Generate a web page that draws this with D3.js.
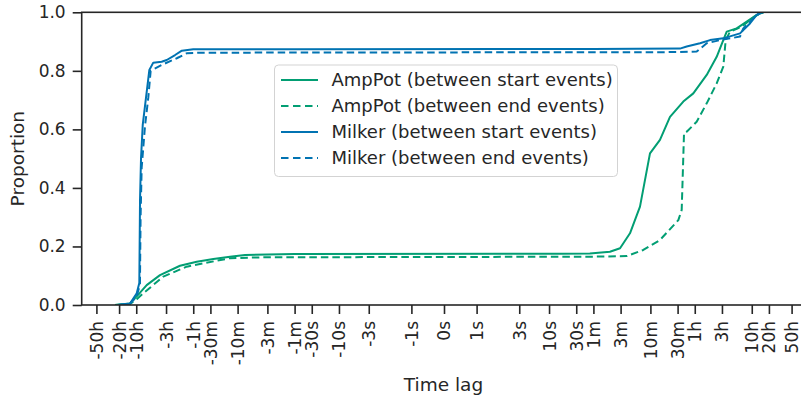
<!DOCTYPE html>
<html>
<head>
<meta charset="utf-8">
<script src="https://cdn.jsdelivr.net/npm/d3@7"></script>
<style>
  html, body { margin: 0; padding: 0; background: #fff; }
  svg { display: block; font-family: "DejaVu Sans", sans-serif; }
</style>
</head>
<body>
<svg id="chart" width="801" height="400"></svg>
<script>
// ---------- data (time lag in seconds, cumulative proportion) ----------
const seriesNames = [
  "AmpPot (between start events)",
  "AmpPot (between end events)",
  "Milker (between start events)",
  "Milker (between end events)"
];
const seriesColors = ["#029e73", "#029e73", "#0173b2", "#0173b2"];
const seriesDashed = [false, true, false, true];

const ampPotStart = [
  [-84900, 0], [-46300, 0.005], [-37800, 0.024], [-30900, 0.042], [-23600, 0.068],
  [-13800, 0.102], [-6150, 0.134], [-3130, 0.148], [-1600, 0.157], [-815, 0.165],
  [-445, 0.171], [-60, 0.174], [16, 0.175], [52, 0.176], [117, 0.182], [176, 0.194],
  [263, 0.245], [394, 0.336], [590, 0.518], [883, 0.564], [1324, 0.643], [2265, 0.695],
  [3396, 0.723], [5834, 0.786], [8732, 0.848], [11400, 0.905], [13090, 0.934],
  [19590, 0.945], [29380, 0.968], [43950, 0.991], [57420, 1.0]
];
const ampPotEnd = [
  [-84900, 0], [-46300, 0.004], [-35300, 0.02], [-27040, 0.04], [-12080, 0.097],
  [-4690, 0.131], [-815, 0.160], [-200, 0.163], [52, 0.165], [230, 0.167], [450, 0.188],
  [883, 0.222], [1854, 0.290], [2124, 0.325], [2333, 0.587], [2600, 0.592], [3890, 0.626],
  [5834, 0.689], [8732, 0.757], [11400, 0.814], [12560, 0.905], [14960, 0.934],
  [23980, 0.951], [33500, 0.974], [50240, 0.997], [57420, 1.0]
];
const milkerStart = [
  [-75000, 0], [-46300, 0.005], [-35300, 0.04], [-31800, 0.075], [-30900, 0.36],
  [-29700, 0.50], [-27700, 0.615], [-21200, 0.803], [-18100, 0.828], [-12900, 0.831],
  [-10500, 0.837], [-7500, 0.854], [-5700, 0.869], [-3600, 0.874], [-60, 0.874],
  [60, 0.875], [1980, 0.876], [2600, 0.883], [4450, 0.894], [6670, 0.905],
  [11400, 0.911], [22400, 0.928], [33500, 0.962], [43950, 0.991], [50240, 1.0]
];
const milkerEnd = [
  [-75000, 0], [-46300, 0.004], [-35300, 0.03], [-31000, 0.07], [-30200, 0.30],
  [-28900, 0.47], [-25300, 0.61], [-22100, 0.71], [-20100, 0.80], [-12900, 0.82],
  [-7000, 0.843], [-4690, 0.86], [-3000, 0.862], [1980, 0.864], [3890, 0.866],
  [5830, 0.894], [9980, 0.905], [22400, 0.917], [25600, 0.945], [38300, 0.979],
  [50240, 0.997], [57420, 1.0]
];
const seriesData = [ampPotStart, ampPotEnd, milkerStart, milkerEnd];

const xTickSeconds = [-180000, -72000, -36000, -10800, -3600, -1800, -600, -180, -60, -30, -10, -3, -1,
  0, 1, 3, 10, 30, 60, 180, 600, 1800, 3600, 10800, 36000, 72000, 180000];
const xTickLabels = ["-50h", "-20h", "-10h", "-3h", "-1h", "-30m", "-10m", "-3m", "-1m", "-30s", "-10s", "-3s", "-1s",
  "0s", "1s", "3s", "10s", "30s", "1m", "3m", "10m", "30m", "1h", "3h", "10h", "20h", "50h"];
const yTicks = [0, 0.2, 0.4, 0.6, 0.8, 1.0];
const xLimit = 326000;

// ---------- symmetric log transform (linear near 0) ----------
const linThresh = 2, linScale = 1.144;
function symlog(s) {
  const a = Math.abs(s);
  const v = a <= linThresh ? a / linThresh * linScale : linScale + Math.log10(a / linThresh);
  return Math.sign(s) * v;
}

// ---------- layout ----------
const svg = d3.select("#chart");
const pLeft = 81.7, pRight = 806.3, pTop = 12.3, pBottom = 305;
const ink = "#262626";

const xs = d3.scaleLinear().domain([symlog(-xLimit), symlog(xLimit)]).range([pLeft, pRight]);
const ys = d3.scaleLinear().domain([0, 1]).range([pBottom, pTop]);

// clip
svg.append("defs").append("clipPath").attr("id", "plotclip")
  .append("rect").attr("x", pLeft).attr("y", pTop).attr("width", pRight - pLeft).attr("height", pBottom - pTop);

// lines
const line = d3.line().x(d => xs(symlog(d[0]))).y(d => ys(d[1]));
const lineG = svg.append("g").attr("clip-path", "url(#plotclip)");
seriesData.forEach((data, i) => {
  lineG.append("path")
    .attr("d", line(data))
    .attr("fill", "none")
    .attr("stroke", seriesColors[i])
    .attr("stroke-width", 2)
    .attr("stroke-linejoin", "round")
    .attr("stroke-dasharray", seriesDashed[i] ? "7.5,4" : null);
});

// x axis
const xAxis = d3.axisBottom(xs)
  .tickValues(xTickSeconds.map(symlog))
  .tickFormat((d, i) => xTickLabels[i])
  .tickSize(9).tickSizeOuter(0);
const gx = svg.append("g").attr("transform", `translate(0,${pBottom})`).call(xAxis);
gx.select(".domain").remove();
gx.selectAll(".tick line").attr("stroke", ink).attr("stroke-width", 1.6);
gx.selectAll(".tick text")
  .attr("fill", ink)
  .attr("font-size", 17)
  .attr("font-family", "DejaVu Sans")
  .attr("transform", "rotate(-90)")
  .attr("text-anchor", "end")
  .attr("x", -16)
  .attr("y", 0)
  .attr("dy", "0.35em");

// y axis
const yAxis = d3.axisLeft(ys).tickValues(yTicks).tickFormat(d3.format(".1f")).tickSize(9).tickSizeOuter(0).tickPadding(7);
const gy = svg.append("g").attr("transform", `translate(${pLeft},0)`).call(yAxis);
gy.select(".domain").remove();
gy.selectAll(".tick line").attr("stroke", ink).attr("stroke-width", 1.6);
gy.selectAll(".tick text").attr("fill", ink).attr("font-size", 17).attr("font-family", "DejaVu Sans");

// spines
const spines = svg.append("g").attr("stroke", ink).attr("stroke-width", 1.6).attr("fill", "none");
spines.append("rect").attr("x", pLeft).attr("y", pTop).attr("width", pRight - pLeft).attr("height", pBottom - pTop);

// axis labels
svg.append("text").attr("x", (pLeft + pRight) / 2 - 0.5).attr("y", 391)
  .attr("text-anchor", "middle").attr("font-size", 18.5).attr("fill", ink).text("Time lag");
svg.append("text").attr("transform", `translate(23.5,${(pTop + pBottom) / 2}) rotate(-90)`)
  .attr("text-anchor", "middle").attr("font-size", 18.5).attr("fill", ink).text("Proportion");

// legend
const lg = svg.append("g");
lg.append("rect").attr("x", 274.5).attr("y", 65).attr("width", 343).attr("height", 111.5)
  .attr("rx", 4).attr("fill", "#fff").attr("fill-opacity", 0.8)
  .attr("stroke", "#d3d3d3").attr("stroke-width", 1);
seriesNames.forEach((name, i) => {
  const yy = 80 + i * 26;
  lg.append("line").attr("x1", 281).attr("x2", 318).attr("y1", yy).attr("y2", yy)
    .attr("stroke", seriesColors[i]).attr("stroke-width", 2)
    .attr("stroke-dasharray", seriesDashed[i] ? "7.5,4.5" : null);
  lg.append("text").attr("x", 331.5).attr("y", yy).attr("dy", "0.36em")
    .attr("font-size", 18).attr("fill", ink).text(name);
});
</script>
</body>
</html>
